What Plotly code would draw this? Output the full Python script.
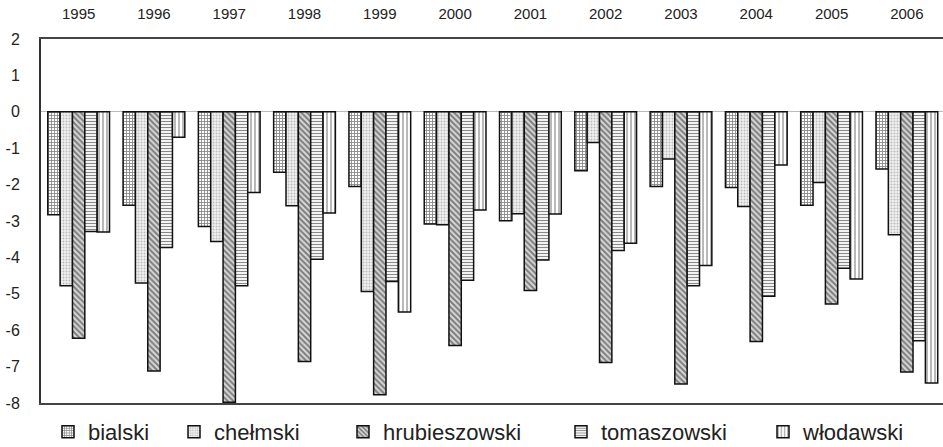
import plotly.graph_objects as go

years = ["1995", "1996", "1997", "1998", "1999", "2000",
         "2001", "2002", "2003", "2004", "2005", "2006"]

bialski = [-2.83, -2.57, -3.15, -1.66, -2.05, -3.08, -2.99, -1.62, -2.05, -2.08, -2.57, -1.57]
chelmski = [-4.78, -4.70, -3.56, -2.58, -4.94, -3.10, -2.80, -0.84, -1.30, -2.60, -1.94, -3.38]
hrubieszowski = [-6.22, -7.12, -7.98, -6.86, -7.77, -6.42, -4.91, -6.89, -7.48, -6.31, -5.28, -7.15]
tomaszowski = [-3.29, -3.73, -4.78, -4.05, -4.66, -4.63, -4.07, -3.81, -4.78, -5.07, -4.30, -6.29]
wlodawski = [-3.30, -0.70, -2.22, -2.78, -5.50, -2.70, -2.81, -3.61, -4.22, -1.46, -4.59, -7.45]

y_ticks = [2, 1, 0, -1, -2, -3, -4, -5, -6, -7, -8]
y_tick_text = ["2", "1", "0", "-1", "-2", "-3", "-4", "-5", "-6", "-7", "-8"]

series = [
    ("bialski", bialski, dict(shape="+", size=3, solidity=0.5, fgcolor="#111", bgcolor="white")),
    ("chełmski", chelmski, dict(shape=".", size=3, solidity=0.35, fgcolor="#888", bgcolor="#f0f0f0")),
    ("hrubieszowski", hrubieszowski, dict(shape="\\", size=4, solidity=0.5, fgcolor="#222", bgcolor="#d8d8d8")),
    ("tomaszowski", tomaszowski, dict(shape="-", size=3, solidity=0.4, fgcolor="#111", bgcolor="white")),
    ("włodawski", wlodawski, dict(shape="|", size=4, solidity=0.3, fgcolor="#111", bgcolor="white")),
]

# horizontal position (container px) of each legend entry
legend_left = [48, 174, 343, 561, 763]

FONT = "Arial, Liberation Sans, sans-serif"
W, H = 943, 447

fig = go.Figure()
for i, (name, vals, pat) in enumerate(series):
    lg = "legend" if i == 0 else f"legend{i + 1}"
    fig.add_trace(go.Bar(
        x=years, y=vals, name=name,
        marker=dict(color=pat["bgcolor"], pattern=pat,
                    line=dict(color="#111", width=1.5)),
        legend=lg, showlegend=True,
    ))

layout_legends = {}
for i, xl in enumerate(legend_left):
    key = "legend" if i == 0 else f"legend{i + 1}"
    layout_legends[key] = dict(
        x=xl / W, xref="container", xanchor="left",
        y=1 - 432 / H, yref="container", yanchor="middle",
        orientation="h", bgcolor="rgba(0,0,0,0)",
        font=dict(family=FONT, size=22, color="#222"),
        itemwidth=30, visible=True,
    )

fig.update_layout(
    width=W, height=H,
    showlegend=True,
    margin=dict(l=41, r=0, t=39, b=44),
    paper_bgcolor="white", plot_bgcolor="white",
    barmode="group", bargap=0.18, bargroupgap=0,
    font=dict(family=FONT, color="#222"),
    xaxis=dict(
        type="category", side="top", range=[-0.5, 11.48],
        showline=True, linecolor="#444", linewidth=2, mirror=True,
        showgrid=False, ticks="", ticklabelstandoff=12,
        tickfont=dict(size=15, color="#222"),
    ),
    yaxis=dict(
        range=[-8, 2], tickvals=y_ticks, ticktext=y_tick_text,
        showline=True, linecolor="#333", linewidth=2,
        showgrid=False, zeroline=True, zerolinecolor="#bbb", zerolinewidth=1,
        ticks="", ticklabelstandoff=16,
        tickfont=dict(size=16, color="#222"),
    ),
    **layout_legends,
)

fig.write_html("out.html")
